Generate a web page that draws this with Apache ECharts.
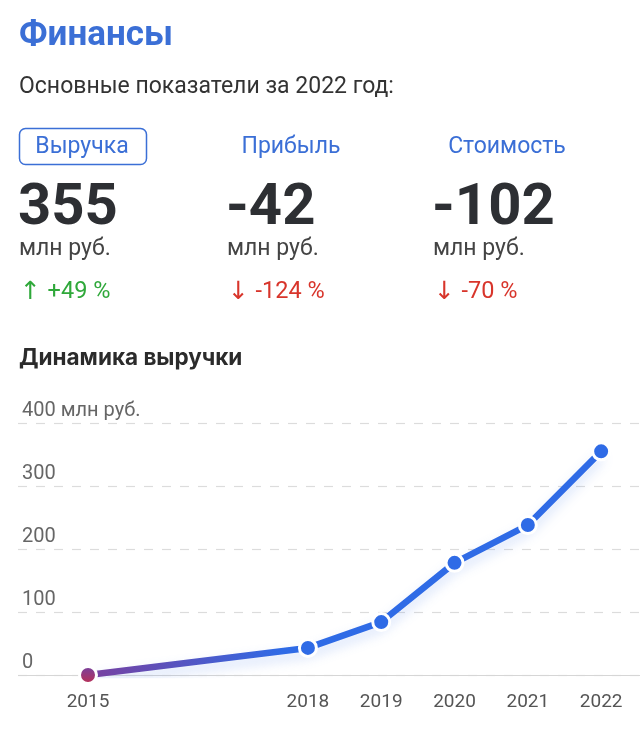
<!DOCTYPE html>
<html>
<head>
<meta charset="utf-8">
<script src="https://cdn.jsdelivr.net/npm/echarts@6/dist/echarts.min.js"></script>
<style>
  html, body { margin: 0; padding: 0; background: #fff; }
  #chart { width: 640px; height: 731px; }
</style>
</head>
<body>
<div id="chart"></div>
<script>
// данные
const years = [2015, 2018, 2019, 2020, 2021, 2022]
const revenue = [0, 43, 84, 178, 238, 355]
const yTicks = [0, 100, 200, 300, 400]

const tabs = ['Выручка', 'Прибыль', 'Стоимость']
const bigValues = ['355', '-42', '-102']
const arrows = ['↑', '↓', '↓']
const changes = ['+49 %', '-124 %', '-70 %']
const changeUp = [true, false, false]

const blue = '#2f6be6'
const colX = [19, 227, 433]
const tabCenter = [82, 291, 507]

const chart = echarts.init(document.getElementById('chart'))

const graphics = [
  { type: 'text', x: 19, y: 36, style: { text: 'Финансы', font: 'bold 35px Roboto', fill: '#3b6fd6', verticalAlign: 'middle' } },
  { type: 'text', x: 19, y: 87, style: { text: 'Основные показатели за 2022 год:', font: '23px Roboto', fill: '#333', verticalAlign: 'middle' } },
  { type: 'rect', shape: { x: 19.5, y: 128.5, width: 127, height: 36, r: 6 }, style: { fill: 'none', stroke: '#3b6fd6', lineWidth: 1.5 } },
  { type: 'text', x: 19, y: 358, style: { text: 'Динамика выручки', font: 'bold 22.5px Inter', fill: '#2b2b2b', verticalAlign: 'middle' } }
]
tabs.forEach((t, i) => {
  graphics.push({ type: 'text', x: tabCenter[i], y: 147, style: { text: t, font: '23px Roboto', fill: '#3b6fd6', align: 'center', verticalAlign: 'middle' } })
  graphics.push({ type: 'text', x: colX[i] - 1, y: 209, style: { text: bigValues[i], font: 'bold 58px Roboto', fill: '#2d2f33', verticalAlign: 'middle' } })
  graphics.push({ type: 'text', x: colX[i], y: 249, style: { text: 'млн руб.', font: '23px Roboto', fill: '#444', verticalAlign: 'middle' } })
  const col = changeUp[i] ? '#2fa83a' : '#d8352b'
  graphics.push({
    type: 'text', x: colX[i] + 1, y: 292,
    style: {
      text: '{a|' + arrows[i] + '}  {b|' + changes[i] + '}',
      verticalAlign: 'middle',
      rich: {
        a: { fontSize: 25, fontFamily: 'DejaVu Sans', fill: col },
        b: { fontSize: 23.5, fontFamily: 'Roboto', fill: col }
      }
    }
  })
})

const seriesData = revenue.map((v, i) => {
  const item = { value: [years[i], v] }
  if (i === 0) {
    item.itemStyle = {
      color: new echarts.graphic.LinearGradient(0, 0, 0, 1, [
        { offset: 0, color: '#7042a6' },
        { offset: 1, color: '#c02e4e' }
      ])
    }
  }
  return item
})

chart.setOption({
  animation: false,
  graphic: graphics,
  grid: { left: 18, right: 0, top: 423, bottom: 56 },
  xAxis: {
    type: 'value',
    min: 2014.045,
    max: 2022.53,
    axisLine: { show: false },
    axisTick: { show: false },
    splitLine: { show: false },
    axisLabel: {
      customValues: years,
      color: '#555',
      fontSize: 19,
      fontFamily: 'Roboto',
      margin: 18,
      formatter: v => String(v)
    }
  },
  yAxis: {
    type: 'value',
    min: 0,
    max: 400,
    interval: 100,
    axisLine: { show: false },
    axisTick: { show: false },
    axisLabel: {
      inside: true,
      margin: 4,
      color: '#666',
      fontSize: 20,
      fontFamily: 'Roboto',
      verticalAlign: 'bottom',
      padding: [0, 0, 2, 0],
      formatter: v => (v === yTicks[yTicks.length - 1] ? v + ' млн руб.' : String(v))
    },
    splitLine: {
      lineStyle: { color: '#dcdcdc', type: [9, 9], width: 1.2 }
    }
  },
  series: [
    {
      type: 'line',
      data: seriesData,
      symbol: 'circle',
      symbolSize: 17,
      z: 5,
      lineStyle: {
        width: 6.5,
        color: new echarts.graphic.LinearGradient(0, 0, 1, 0, [
          { offset: 0, color: '#7a3f9e' },
          { offset: 0.38, color: blue },
          { offset: 1, color: blue }
        ]),
        shadowColor: 'rgba(47,107,230,0.22)',
        shadowBlur: 12,
        shadowOffsetY: 6
      },
      itemStyle: {
        color: blue,
        borderColor: '#fff',
        borderWidth: 3
      },
      markLine: {
        silent: true,
        symbol: 'none',
        label: { show: false },
        lineStyle: { color: '#d6d6d6', type: 'solid', width: 1.2 },
        data: [{ yAxis: 0 }]
      }
    }
  ]
})
</script>
</body>
</html>
